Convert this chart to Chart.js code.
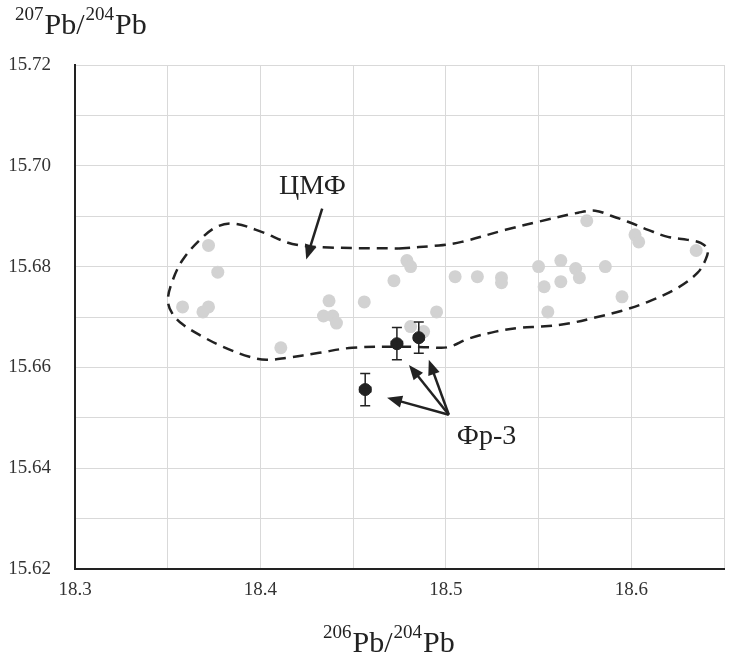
<!DOCTYPE html>
<html>
<head>
<meta charset="utf-8">
<script src="https://cdn.jsdelivr.net/npm/chart.js@4.4.1/dist/chart.umd.min.js"></script>
<style>
  html, body { margin: 0; padding: 0; background: #fff; }
  canvas { display: block; }
</style>
</head>
<body>
<canvas id="grafico" width="731" height="665"></canvas>
<script>
// ЦМФ samples (grey)
const cmfX = [18.372, 18.377, 18.358, 18.369, 18.372, 18.437, 18.434, 18.439, 18.441, 18.456,
  18.411, 18.472, 18.479, 18.481, 18.481, 18.488, 18.495, 18.505, 18.517, 18.530,
  18.530, 18.550, 18.553, 18.555, 18.562, 18.562, 18.570, 18.572, 18.576, 18.586,
  18.595, 18.602, 18.604, 18.635];
const cmfY = [15.6842, 15.6789, 15.6720, 15.6710, 15.6720, 15.6732, 15.6702, 15.6702, 15.6688, 15.6730,
  15.6639, 15.6772, 15.6812, 15.6800, 15.6681, 15.6671, 15.6710, 15.6780, 15.6780, 15.6778,
  15.6768, 15.6800, 15.6760, 15.6710, 15.6812, 15.6770, 15.6796, 15.6778, 15.6891, 15.6800,
  15.6740, 15.6863, 15.6849, 15.6832];

// Фр-3 samples with errors
const fr3X = [18.4736, 18.4854, 18.4565];
const fr3Y = [15.6647, 15.6659, 15.6556];
const fr3ErrX = [0.003, 0.0027, 0.003];
const fr3ErrY = [0.0032, 0.0031, 0.0032];

// ЦМФ field outline (closed)
const envX = [18.4747, 18.4963, 18.5085, 18.5322, 18.5499, 18.5714, 18.5805, 18.5891, 18.5982, 18.6090,
  18.6197, 18.6304, 18.6374, 18.6412, 18.6401, 18.6358, 18.6251, 18.6090, 18.5945, 18.5805,
  18.5660, 18.5515, 18.5408, 18.5268, 18.5123, 18.5010, 18.4908, 18.4747, 18.4495, 18.4317,
  18.4140, 18.4033, 18.3941, 18.3797, 18.3689, 18.3582, 18.3523, 18.3501, 18.3528, 18.3582,
  18.3673, 18.3765, 18.3861, 18.4006, 18.4172, 18.4371, 18.4747];
const envY = [15.6836, 15.6842, 15.6849, 15.6873, 15.6889, 15.6907, 15.6911, 15.6901, 15.6889, 15.6873,
  15.6859, 15.6853, 15.6847, 15.6834, 15.6814, 15.6788, 15.6758, 15.6730, 15.6712, 15.6699,
  15.6687, 15.6681, 15.6679, 15.6671, 15.6657, 15.6640, 15.6640, 15.6641, 15.6639, 15.6629,
  15.6619, 15.6615, 15.6621, 15.6641, 15.6661, 15.6685, 15.6708, 15.6734, 15.6774, 15.6814,
  15.6853, 15.6879, 15.6885, 15.6869, 15.6845, 15.6838, 15.6836];

// annotations (data coords)
const cmfLabel = { text: "ЦМФ", x: 18.4281, y: 15.6959 };
const cmfArrow = { from: [18.4333, 15.6915], to: [18.4247, 15.6814] };
const fr3Label = { text: "Фр-3", x: 18.5059, y: 15.6462 };
const fr3ArrowFrom = [18.5016, 15.6506];
const fr3ArrowTo = [[18.4683, 15.6540], [18.4801, 15.6605], [18.4908, 15.6615]];

const serif = "'Liberation Serif', 'DejaVu Serif', serif";
const ink = "#222";

function toPts(xs, ys) {
  return xs.map((v, i) => ({ x: v, y: ys[i] }));
}

function drawArrow(ctx, x0, y0, x1, y1) {
  const ang = Math.atan2(y1 - y0, x1 - x0);
  const hl = 15, hw = 6;
  ctx.beginPath();
  ctx.moveTo(x0, y0);
  ctx.lineTo(x1 - Math.cos(ang) * hl * 0.8, y1 - Math.sin(ang) * hl * 0.8);
  ctx.stroke();
  ctx.beginPath();
  ctx.moveTo(x1, y1);
  ctx.lineTo(x1 - Math.cos(ang) * hl - Math.sin(ang) * hw, y1 - Math.sin(ang) * hl + Math.cos(ang) * hw);
  ctx.lineTo(x1 - Math.cos(ang) * hl + Math.sin(ang) * hw, y1 - Math.sin(ang) * hl - Math.cos(ang) * hw);
  ctx.closePath();
  ctx.fill();
}

function drawIsoTitle(ctx, x, yBase, sup1, sup2) {
  const big = "30px " + serif, small = "19px " + serif;
  ctx.textBaseline = "alphabetic";
  ctx.textAlign = "left";
  let cx = x;
  ctx.font = small; ctx.fillText(sup1, cx, yBase - 14); cx += ctx.measureText(sup1).width + 1;
  ctx.font = big; ctx.fillText("Pb/", cx, yBase); cx += ctx.measureText("Pb/").width + 1;
  ctx.font = small; ctx.fillText(sup2, cx, yBase - 14); cx += ctx.measureText(sup2).width + 1;
  ctx.font = big; ctx.fillText("Pb", cx, yBase);
}

const extras = {
  id: "extras",
  beforeDraw(chart) {
    const ctx = chart.ctx;
    ctx.save();
    ctx.fillStyle = "#fff";
    ctx.fillRect(0, 0, chart.width, chart.height);
    ctx.restore();
  },
  afterDatasetsDraw(chart) {
    const { ctx, scales: { x, y } } = chart;
    ctx.save();
    ctx.strokeStyle = ink;
    ctx.fillStyle = ink;

    // error bars
    ctx.lineWidth = 1.5;
    fr3X.forEach((v, i) => {
      const px = x.getPixelForValue(v), py = y.getPixelForValue(fr3Y[i]);
      const y0 = y.getPixelForValue(fr3Y[i] - fr3ErrY[i]);
      const y1 = y.getPixelForValue(fr3Y[i] + fr3ErrY[i]);
      const x0 = x.getPixelForValue(v - fr3ErrX[i]);
      const x1 = x.getPixelForValue(v + fr3ErrX[i]);
      ctx.beginPath();
      ctx.moveTo(px, y0); ctx.lineTo(px, y1);
      ctx.moveTo(px - 5, y0); ctx.lineTo(px + 5, y0);
      ctx.moveTo(px - 5, y1); ctx.lineTo(px + 5, y1);
      ctx.moveTo(x0, py); ctx.lineTo(x1, py);
      ctx.moveTo(x0, py - 3); ctx.lineTo(x0, py + 3);
      ctx.moveTo(x1, py - 3); ctx.lineTo(x1, py + 3);
      ctx.stroke();
    });

    // arrows
    ctx.lineWidth = 2.5;
    drawArrow(ctx,
      x.getPixelForValue(cmfArrow.from[0]), y.getPixelForValue(cmfArrow.from[1]),
      x.getPixelForValue(cmfArrow.to[0]), y.getPixelForValue(cmfArrow.to[1]));
    fr3ArrowTo.forEach((t) => {
      drawArrow(ctx,
        x.getPixelForValue(fr3ArrowFrom[0]), y.getPixelForValue(fr3ArrowFrom[1]),
        x.getPixelForValue(t[0]), y.getPixelForValue(t[1]));
    });

    // labels
    ctx.font = "28px " + serif;
    ctx.textBaseline = "middle";
    ctx.textAlign = "center";
    ctx.fillText(cmfLabel.text, x.getPixelForValue(cmfLabel.x), y.getPixelForValue(cmfLabel.y));
    ctx.textAlign = "left";
    ctx.fillText(fr3Label.text, x.getPixelForValue(fr3Label.x), y.getPixelForValue(fr3Label.y));

    // axis titles
    drawIsoTitle(ctx, 15, 34, "207", "204");
    drawIsoTitle(ctx, 323, 652, "206", "204");
    ctx.restore();
  },
};

new Chart(document.getElementById("grafico").getContext("2d"), {
  type: "scatter",
  data: {
    datasets: [
      {
        label: "Фр-3",
        data: toPts(fr3X, fr3Y),
        backgroundColor: ink,
        borderColor: ink,
        pointRadius: 6,
        order: 0,
      },
      {
        label: "ЦМФ",
        data: toPts(cmfX, cmfY),
        backgroundColor: "#d2d2d2",
        borderWidth: 0,
        pointRadius: 6.5,
        order: 1,
      },
      {
        label: "envelope",
        data: toPts(envX, envY),
        showLine: true,
        fill: false,
        borderColor: ink,
        borderWidth: 2.5,
        borderDash: [11, 7],
        tension: 0.35,
        pointRadius: 0,
        order: 2,
      },
    ],
  },
  options: {
    responsive: false,
    animation: false,
    devicePixelRatio: 1,
    layout: { padding: { top: 65, right: -2, left: 0, bottom: 0 } },
    plugins: {
      legend: { display: false },
      tooltip: { enabled: false },
    },
    scales: {
      x: {
        type: "linear",
        min: 18.3,
        max: 18.65,
        afterFit: (s) => { s.height = 96; s.paddingRight = 0; s.paddingLeft = 0; },
        border: { display: true, color: ink, width: 2 },
        grid: { color: "#d9d9d9", lineWidth: 1, drawTicks: false },
        ticks: {
          stepSize: 0.05,
          padding: 10,
          color: "#333",
          font: { family: serif, size: 19 },
          callback: (v) => (Math.round(v * 100) % 10 === 0 ? v.toFixed(1) : ""),
        },
      },
      y: {
        type: "linear",
        min: 15.62,
        max: 15.72,
        afterFit: (s) => { s.width = 75; },
        border: { display: true, color: ink, width: 2 },
        grid: { color: "#d9d9d9", lineWidth: 1, drawTicks: false },
        ticks: {
          stepSize: 0.01,
          padding: 24,
          color: "#333",
          font: { family: serif, size: 19 },
          callback: (v) => (Math.round(v * 100) % 2 === 0 ? v.toFixed(2) : ""),
        },
      },
    },
  },
  plugins: [extras],
});
</script>
</body>
</html>
